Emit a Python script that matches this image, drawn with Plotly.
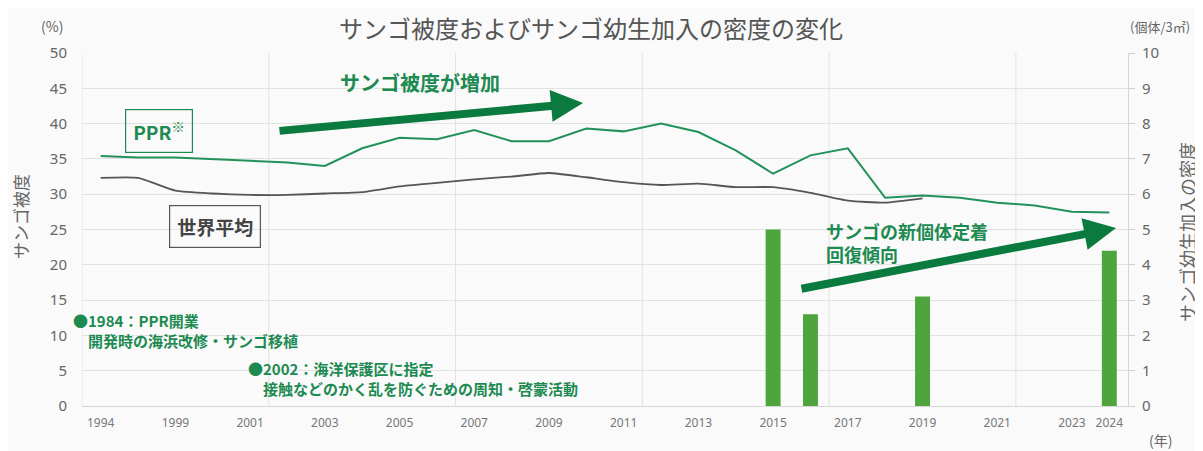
import plotly.graph_objects as go

# categories (one per year slot on the category axis)
years = ["1994", "1997", "1999", "2000", "2001", "2002", "2003", "2004", "2005",
         "2006", "2007", "2008", "2009", "2010", "2011", "2012", "2013", "2014",
         "2015", "2016", "2017", "2018", "2019", "2020", "2021", "2022", "2023", "2024"]
tick_years = ["1994", "1999", "2001", "2003", "2005", "2007", "2009", "2011", "2013",
              "2015", "2017", "2019", "2021", "2023", "2024"]

# coral cover (%)
ppr_cover = [35.4, 35.2, 35.2, 35.0, 34.8, 34.5, 34.0, 36.5, 38.0, 37.8, 39.1, 37.5,
             37.5, 39.3, 38.9, 40.0, 38.8, 36.2, 32.9, 35.5, 36.5, 29.5, 29.8, 29.5,
             28.8, 28.4, 27.5, 27.4]
world_years = years[:23]
world_cover = [32.3, 32.3, 30.5, 30.1, 29.9, 29.9, 30.1, 30.3, 31.1, 31.6, 32.1, 32.5,
               33.0, 32.4, 31.7, 31.3, 31.5, 31.0, 31.0, 30.2, 29.1, 28.8, 29.4]

# coral larval recruitment density (ind./3m2)
bar_years = ["2015", "2016", "2019", "2024"]
bar_density = [5.0, 2.6, 3.1, 4.4]

BG = "#fafafa"
GRID = "#e2e2e2"
GREEN_LINE = "#22915a"
GREEN_BAR = "#4ea53e"
GREEN_ARROW = "#0b7a3e"
GREEN_TEXT = "#1d8a52"
GRAY_TEXT = "#666666"
FONT = "Noto Sans CJK JP"

# page offset of the figure (body margin) and plot area in page pixels
OFF = 8
W, H = 1203 - OFF, 451 - OFF
L, R, T, B = 82, 1128, 53, 406


def px(x):
    return (x - L) / (R - L)


def py(y):
    return (B - y) / (B - T)


def f(size, color=GREEN_TEXT):
    return dict(family=FONT, size=size, color=color)


fig = go.Figure()

fig.add_trace(go.Bar(
    x=bar_years, y=bar_density, yaxis="y2",
    marker=dict(color=GREEN_BAR, line=dict(width=0)),
    width=0.4, name="density",
))
fig.add_trace(go.Scatter(
    x=world_years, y=world_cover, mode="lines",
    line=dict(color="#555555", width=1.8, shape="spline", smoothing=0.5),
    name="world",
))
fig.add_trace(go.Scatter(
    x=years, y=ppr_cover, mode="lines",
    line=dict(color=GREEN_LINE, width=2),
    name="PPR",
))

# vertical gridlines every five categories
for k in range(0, len(years), 5):
    fig.add_shape(type="line", xref="x", yref="paper", x0=k - 0.5, x1=k - 0.5,
                  y0=0, y1=1, line=dict(color=GRID, width=1), layer="below")

texts = [
    dict(text="サンゴ被度およびサンゴ幼生加入の密度の変化", x=591, y=27,
         font=f(24, "#555555")),
    dict(text="(%)", x=52, y=26, font=f(14, GRAY_TEXT)),
    dict(text="(個体/3㎡)", x=1160, y=26, font=f(13, GRAY_TEXT)),
    dict(text="(年)", x=1160, y=440, font=f(14, GRAY_TEXT)),
    dict(text="サンゴ被度", x=20, y=217, textangle=-90, font=f(17, GRAY_TEXT)),
    dict(text="サンゴ幼生加入の密度", x=1187, y=232, textangle=-90, font=f(18, GRAY_TEXT)),
    dict(text="<b>PPR</b><sup>※</sup>", x=159, y=131, font=f(19),
         bordercolor=GREEN_TEXT, borderwidth=1.2, borderpad=7),
    dict(text="<b>世界平均</b>", x=215, y=226, font=f(19, "#444444"),
         bordercolor="#555555", borderwidth=1.2, borderpad=7),
    dict(text="<b>サンゴ被度が増加</b>", x=420, y=83, font=f(20)),
    dict(text="<b>サンゴの新個体定着<br>回復傾向</b>", x=824, y=242, xanchor="left",
         align="left", font=f(18)),
    dict(text="<b>●1984：PPR開業<br>　開発時の海浜改修・サンゴ移植</b>", x=71, y=330,
         xanchor="left", align="left", font=f(15)),
    dict(text="<b>●2002：海洋保護区に指定<br>　接触などのかく乱を防ぐための周知・啓蒙活動</b>",
         x=246, y=378, xanchor="left", align="left", font=f(15)),
]
for a in texts:
    a = dict(a)
    a["x"], a["y"] = px(a["x"]), py(a["y"])
    a.setdefault("xanchor", "center")
    fig.add_annotation(xref="paper", yref="paper", showarrow=False, yanchor="middle", **a)

# trend arrows
for head, tail in [((583, 103), (278, 131)), ((1116, 228), (800, 289))]:
    fig.add_annotation(xref="paper", yref="paper", x=px(head[0]), y=py(head[1]),
                       ax=tail[0] - head[0], ay=tail[1] - head[1], text="",
                       showarrow=True, arrowhead=2, arrowsize=0.8, arrowwidth=8,
                       arrowcolor=GREEN_ARROW, standoff=0, startstandoff=0)

fig.update_layout(
    width=W, height=H,
    margin=dict(l=L - OFF, r=1203 - R, t=T - OFF, b=451 - B),
    paper_bgcolor=BG, plot_bgcolor=BG,
    showlegend=False,
    font=dict(family=FONT, color=GRAY_TEXT),
    xaxis=dict(
        type="category", categoryorder="array", categoryarray=years,
        range=[-0.5, len(years) - 0.5],
        tickvals=tick_years, ticktext=tick_years,
        showgrid=False, showline=True, linecolor="#d6d6d6", linewidth=1,
        ticks="", tickfont=dict(size=12, color="#777777", family="Noto Sans"),
        ticklabelstandoff=6,
    ),
    yaxis=dict(
        range=[0, 50], dtick=5, showgrid=True, gridcolor=GRID, gridwidth=1,
        zeroline=False, showline=False, ticks="",
        tickfont=dict(size=15, color=GRAY_TEXT, family="Noto Sans"),
        ticklabelstandoff=14,
    ),
    yaxis2=dict(
        range=[0, 10], dtick=1, overlaying="y", side="right", showgrid=False,
        zeroline=False, showline=True, linecolor="#d6d6d6", linewidth=1,
        ticks="outside", ticklen=6, tickcolor="#cccccc",
        tickfont=dict(size=15, color=GRAY_TEXT, family="Noto Sans"),
        ticklabelstandoff=4,
    ),
)

fig.write_html("out.html")
